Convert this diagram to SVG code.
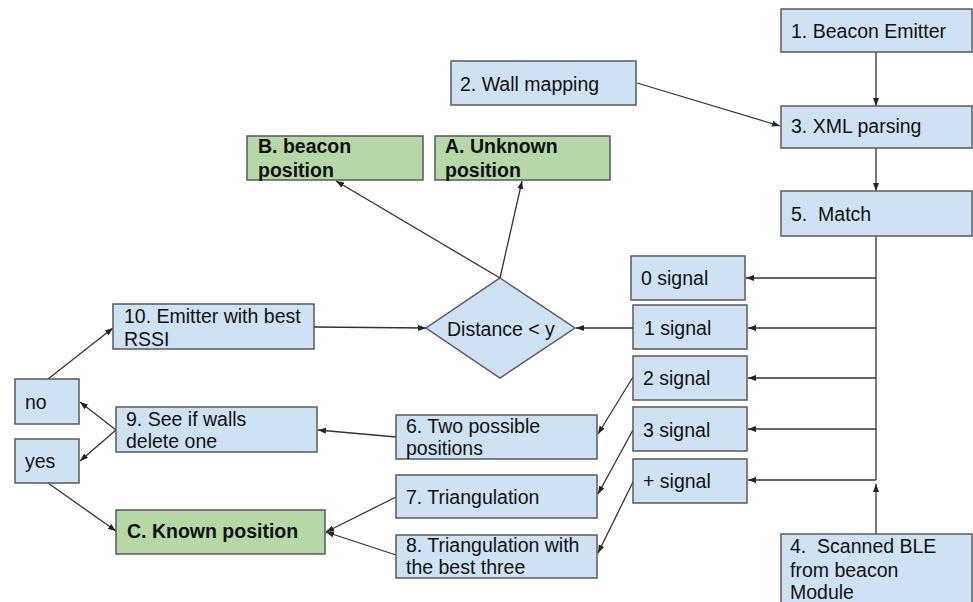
<svg xmlns="http://www.w3.org/2000/svg" width="973" height="602" viewBox="0 0 973 602">
  <defs>
    <marker id="arr" viewBox="0 0 8 6" refX="8" refY="3" markerWidth="8" markerHeight="6" markerUnits="userSpaceOnUse" orient="auto">
      <path d="M0,0 L8,3 L0,6 Z" fill="#222"/>
    </marker>
    <style>
      .box { fill: #cfe2f3; stroke: #595959; stroke-width: 1.5; }
      .ok { fill: #b6d7a8; stroke: #595959; stroke-width: 1.5; }
      text { font-family: "Liberation Sans", Arial, sans-serif; font-size: 19.5px; fill: #111; }
      .b { font-weight: bold; }
      .c { stroke: #333; stroke-width: 1.3; fill: none; }
      .a { marker-end: url(#arr); }
    </style>
  </defs>
  <rect width="973" height="602" fill="#fff"/>

  <!-- connectors -->
  <g id="connectors">
    <line class="c a" x1="876" y1="52" x2="876" y2="106"/>
    <line class="c a" x1="637" y1="83" x2="780" y2="126"/>
    <line class="c a" x1="876" y1="148" x2="876" y2="191"/>
    <line class="c" x1="876" y1="236" x2="876" y2="480"/>
    <line class="c a" x1="876" y1="278" x2="746" y2="278"/>
    <line class="c a" x1="876" y1="328" x2="748" y2="328"/>
    <line class="c a" x1="876" y1="378" x2="748" y2="378"/>
    <line class="c a" x1="876" y1="429" x2="748" y2="429"/>
    <line class="c a" x1="876" y1="480" x2="748" y2="480"/>
    <line class="c a" x1="876" y1="534" x2="876" y2="484"/>
    <line class="c a" x1="633" y1="328" x2="576" y2="328"/>
    <line class="c a" x1="314" y1="327" x2="426" y2="328"/>
    <line class="c a" x1="500" y1="278" x2="336" y2="181"/>
    <line class="c a" x1="500" y1="278" x2="522" y2="181"/>
    <line class="c a" x1="633" y1="377" x2="598" y2="434"/>
    <line class="c a" x1="633" y1="430" x2="598" y2="494"/>
    <line class="c a" x1="633" y1="482" x2="598" y2="553"/>
    <line class="c a" x1="396" y1="437" x2="318" y2="430"/>
    <line class="c a" x1="396" y1="497" x2="326" y2="532"/>
    <line class="c a" x1="396" y1="555" x2="326" y2="532"/>
    <line class="c a" x1="116" y1="430" x2="80" y2="402"/>
    <line class="c a" x1="116" y1="430" x2="80" y2="461"/>
    <line class="c a" x1="48" y1="379" x2="113" y2="328"/>
    <line class="c a" x1="48" y1="483" x2="116" y2="531"/>
  </g>

  <g id="n1"><rect class="box" x="781" y="9" width="191" height="43"/><text x="791" y="38">1. Beacon Emitter</text></g>
  <g id="n2"><rect class="box" x="451" y="61" width="185" height="44"/><text x="460" y="91">2. Wall mapping</text></g>
  <g id="n3"><rect class="box" x="781" y="106" width="191" height="42"/><text x="791" y="133">3. XML parsing</text></g>
  <g id="n5"><rect class="box" x="781" y="191" width="191" height="45"/><text x="791" y="221" xml:space="preserve">5.  Match</text></g>
  <g id="nB"><rect class="ok" x="247" y="136" width="176" height="44"/><text class="b" x="258" y="153">B. beacon</text><text class="b" x="258" y="177">position</text></g>
  <g id="nA"><rect class="ok" x="435" y="136" width="175" height="44"/><text class="b" x="445" y="153">A. Unknown</text><text class="b" x="445" y="177">position</text></g>
  <g id="s0"><rect class="box" x="631" y="256" width="114" height="44"/><text x="641" y="285">0 signal</text></g>
  <g id="s1"><rect class="box" x="633" y="305" width="114" height="44"/><text x="644" y="335">1 signal</text></g>
  <g id="s2"><rect class="box" x="633" y="356" width="114" height="44"/><text x="643" y="385">2 signal</text></g>
  <g id="s3"><rect class="box" x="633" y="407" width="114" height="44"/><text x="643" y="437">3 signal</text></g>
  <g id="sp"><rect class="box" x="633" y="459" width="114" height="44"/><text x="643" y="488">+ signal</text></g>
  <g id="n4"><rect class="box" x="781" y="534" width="191" height="76"/><text x="790" y="553" xml:space="preserve">4.  Scanned BLE</text><text x="790" y="577">from beacon</text><text x="790" y="599">Module</text></g>
  <g id="dist"><polygon class="box" points="500,278 575,328 500,378 426,328"/><text x="447" y="336">Distance &lt; y</text></g>
  <g id="n6"><rect class="box" x="396" y="415" width="201" height="44"/><text x="406" y="433">6. Two possible</text><text x="406" y="455">positions</text></g>
  <g id="n7"><rect class="box" x="396" y="475" width="201" height="43"/><text x="406" y="504">7. Triangulation</text></g>
  <g id="n8"><rect class="box" x="396" y="535" width="201" height="43"/><text x="406" y="552">8. Triangulation with</text><text x="406" y="574">the best three</text></g>
  <g id="n10"><rect class="box" x="113" y="304" width="201" height="45"/><text x="124" y="323">10. Emitter with best</text><text x="124" y="346">RSSI</text></g>
  <g id="n9"><rect class="box" x="116" y="407" width="201" height="45"/><text x="126" y="426">9. See if walls</text><text x="126" y="448">delete one</text></g>
  <g id="no"><rect class="box" x="15" y="379" width="64" height="45"/><text x="25" y="409">no</text></g>
  <g id="yes"><rect class="box" x="15" y="439" width="64" height="44"/><text x="25" y="468">yes</text></g>
  <g id="nC"><rect class="ok" x="116" y="510" width="209" height="44"/><text class="b" x="127" y="538">C. Known position</text></g>
</svg>
